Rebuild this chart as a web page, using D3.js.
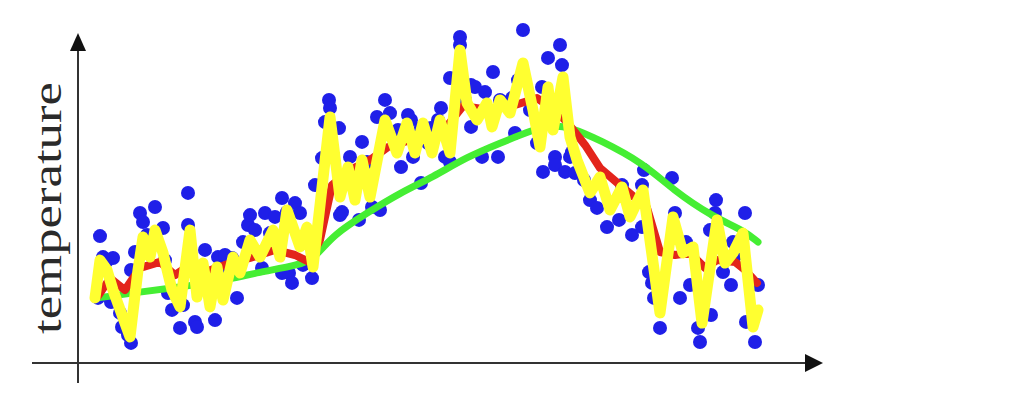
<!DOCTYPE html>
<meta charset="utf-8">
<style>

body {
  margin: 0;
  background: #fff;
}

svg {
  display: block;
}

.dot {
  fill: #1f1fe8;
}

.line {
  fill: none;
  stroke-linejoin: round;
  stroke-linecap: round;
}

.axis {
  stroke: #333;
  stroke-width: 2;
}

</style>
<body>
<script src="https://cdn.jsdelivr.net/npm/d3@7"></script>
<script>

var width = 1031,
    height = 403;

// daily readings (day of year, temperature)
var days = [10, 11, 12.5, 14, 16.5, 17.5, 21, 22, 25, 26.5, 26.5, 28.5, 31, 32.5, 34.5, 38.5, 42.5, 43.5, 45, 47,
  51, 52.5, 55, 55, 58.5, 59.5, 63.5, 66, 68.5, 70, 71, 73.5, 77, 79.5, 82.5, 85, 86, 88.5, 92, 93.5,
  96, 97.5, 98.5, 102, 102, 104.5, 105.5, 107, 108.5, 111, 112.5, 117, 118.5, 122, 123.5, 125.5, 126, 130.5, 131, 132,
  133.5, 136, 140.5, 142, 144.5, 147, 149.5, 151, 153.5, 156, 160, 161.5, 165, 166.5, 167.5, 171.5, 171.5, 175, 176.5, 180,
  181.5, 183.5, 186, 186, 191, 191, 193.5, 196.5, 196.5, 198.5, 202, 203.5, 207.5, 210, 211, 217, 218.5, 220, 222.5, 226,
  229.5, 232, 232.5, 235, 238.5, 238.5, 241, 242, 243.5, 246, 247, 248.5, 253, 256, 259.5, 264.5, 270.5, 272, 277, 282,
  283, 282, 285.5, 287, 288, 291, 297, 298.5, 301, 304, 306, 310, 311, 316, 316.5, 318.5, 319, 322.5, 326.5, 327.5,
  329, 333.5, 334, 338.5, 340];

var temps = [21.7, 42.3, 35.3, 33.7, 20.3, 35, 16.7, 12, 9.3, 6.7, 31, 37, 50, 47, 42.7, 52, 45, 34.3, 23.3, 17.7,
  11.7, 19.3, 56.7, 46, 13.7, 12, 37.7, 27.7, 14.3, 35.3, 31.7, 36, 35, 21.7, 40.3, 46, 49.3, 44.3, 31.7, 50,
  43.3, 40, 48.7, 55, 30, 50.3, 30, 26.7, 53.3, 50, 32.7, 28.3, 59.3, 68.3, 80.3, 87.7, 85, 78.3, 49.3, 50.3,
  62.7, 68.7, 47.7, 73.7, 67, 52, 82, 51, 87.7, 83.3, 77.7, 65.3, 82.7, 81, 68.7, 78.3, 60, 73.3, 78.3, 81,
  85, 68.7, 95, 67, 108.7, 106, 87.7, 92.7, 78.7, 92, 68.7, 90.3, 97, 68.7, 87.7, 88.3, 76.7, 94.3, 111, 84.3,
  73.3, 92, 63.7, 101.7, 68.7, 66, 106, 99.3, 63.7, 68.7, 70.3, 63.3, 61, 54.3, 51.7, 45.3, 47.7, 59.3, 42.7, 59.3,
  64.3, 45.3, 30.3, 26.7, 21.7, 11.7, 61.7, 50, 21.7, 40.3, 26, 11.7, 7, 44.3, 16, 50, 54.3, 30.3, 26, 40.3,
  36, 50, 13.7, 7, 26];

// beta = 0.5 average (yellow)
var fastDays = [8.5, 11, 14.5, 17.5, 26, 30, 32.5, 36, 38.5, 42.5, 47, 51, 56, 59.5, 62.5, 66, 69.5, 72.5, 77.5, 81,
  86, 91, 97.5, 101, 104.5, 111, 114.5, 117.5, 126, 131, 135, 138.5, 142, 146, 153.5, 159.5, 164.5, 168.5, 172.5, 177,
  181, 186, 191, 194.5, 199.5, 204.5, 207, 211, 216, 222.5, 227.5, 231, 235, 237.5, 242.5, 246, 249.5, 256, 261, 266,
  272, 276, 282.5, 291, 297.5, 302.5, 307.5, 312, 319.5, 323.5, 327.5, 332.5, 337.5, 340];
var fastTemps = [21.7, 34.3, 31, 24.3, 8.7, 31, 42, 35.3, 44.3, 36.7, 24.3, 18.7, 44.3, 22, 33.3, 18.7, 32, 21, 35.3, 30,
  41, 35.3, 44.3, 35.3, 51, 38.7, 45.3, 32, 82, 55.3, 65.3, 54.3, 67.7, 55.3, 81, 70, 80, 70, 80, 70,
  81, 70, 104.3, 86.7, 81, 86.7, 78.7, 87.7, 83.3, 100, 84.3, 72, 92, 77.7, 95.3, 75.3, 67.7, 56.7, 62, 51,
  58.7, 48.7, 57.7, 16.7, 48.7, 36.7, 38.7, 13.3, 47.7, 33.3, 36.7, 43.3, 12, 17.7];

// beta = 0.9 average (red)
var midDays = [10, 16, 23.5, 31, 41, 48.5, 56, 63.5, 73.5, 86, 98.5, 108.5, 115.5, 121, 127, 136, 146, 155, 166, 181,
  192.5, 206, 218.5, 229.5, 238.5, 244.5, 253.5, 261, 271, 284.5, 291, 298.5, 306, 313.5, 319.5, 328.5, 333.5, 339.5];
var midTemps = [22.3, 28.3, 24.3, 31.7, 33.7, 29.3, 32.7, 30.3, 32.7, 35, 37.7, 36, 33.7, 41, 59.3, 64.3, 67.7, 72, 74.3, 76,
  85.7, 84.3, 86, 88.3, 84.3, 80.3, 72.7, 65, 59.3, 51.7, 37, 36, 36.7, 31.7, 34.3, 33.7, 31, 26.7];

// beta = 0.98 average (green)
var slowDays = [10, 31, 51, 71, 91, 111, 118.5, 127.5, 144.5, 161, 177.5, 194.5, 211, 227.5, 236, 246, 261, 282.5, 297.5, 317.5,
  332.5, 340];
var slowTemps = [21.7, 23.7, 25.3, 27.3, 30.3, 32.7, 35, 42.7, 50, 56.7, 62, 68.7, 73.3, 77.7, 79.3, 78.7, 74.3, 66.7, 57.7, 48.7,
  44.3, 40.3];

var x = d3.scaleLinear().domain([0, 372]).range([78, 822]),
    y = d3.scaleLinear().domain([0, 111]).range([363, 30]);

var svg = d3.select("body").append("svg")
    .attr("width", width)
    .attr("height", height);

// axes
svg.append("line").attr("class", "axis")
    .attr("x1", 32).attr("y1", y(0))
    .attr("x2", 808).attr("y2", y(0));
svg.append("path")
    .attr("d", "M805," + (y(0) - 9) + "L823," + y(0) + "L805," + (y(0) + 9) + "Z")
    .style("fill", "#111");

svg.append("line").attr("class", "axis")
    .attr("x1", x(0)).attr("y1", 383)
    .attr("x2", x(0)).attr("y2", 48);
svg.append("path")
    .attr("d", "M" + (x(0) - 8) + ",51L" + x(0) + ",33L" + (x(0) + 8) + ",51Z")
    .style("fill", "#111");

svg.append("text")
    .attr("transform", "translate(61,208) rotate(-90)")
    .attr("text-anchor", "middle")
    .attr("textLength", 252)
    .attr("lengthAdjust", "spacingAndGlyphs")
    .style("font-family", "'Liberation Serif', 'Times New Roman', serif")
    .style("font-size", "39px")
    .style("fill", "#2a2a2a")
    .text("temperature");

// readings
svg.selectAll(".dot")
    .data(d3.range(days.length))
  .enter().append("circle")
    .attr("class", "dot")
    .attr("cx", function(i) { return x(days[i]); })
    .attr("cy", function(i) { return y(temps[i]); })
    .attr("r", 7);

function line(ds, ts) {
  return d3.line()
      .x(function(i) { return x(ds[i]); })
      .y(function(i) { return y(ts[i]); })(d3.range(ds.length));
}

svg.append("path").attr("class", "line")
    .attr("d", d3.line()
      .curve(d3.curveBasis)
      .x(function(i) { return x(slowDays[i]); })
      .y(function(i) { return y(slowTemps[i]); })(d3.range(slowDays.length)))
    .style("stroke", "#45ee33")
    .style("stroke-width", 7);

svg.append("path").attr("class", "line")
    .attr("d", line(midDays, midTemps))
    .style("stroke", "#e3241b")
    .style("stroke-width", 8);

svg.append("path").attr("class", "line")
    .attr("d", line(fastDays, fastTemps))
    .style("stroke", "#ffff30")
    .style("stroke-width", 11);

</script>
